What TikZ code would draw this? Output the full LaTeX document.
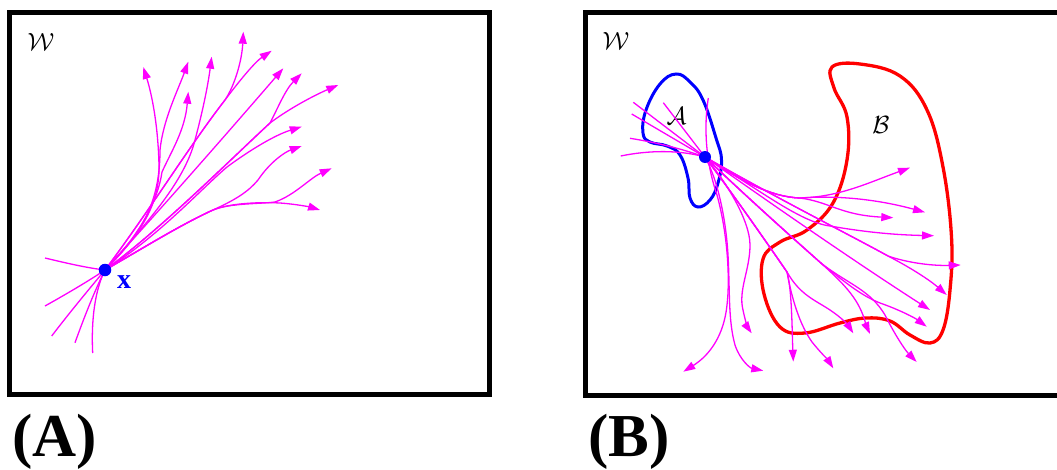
\documentclass[tikz,border=0pt]{standalone}
\usepackage{fontspec}
\setmainfont{Liberation Serif}
\usetikzlibrary{arrows.meta}
\definecolor{mag}{RGB}{255,0,255}
\definecolor{bl}{RGB}{0,0,255}
\definecolor{rd}{RGB}{255,0,0}
\tikzset{
  frame/.style={draw=black,line width=5pt},
  traj/.style={draw=mag,line width=1.3pt},
  arr/.style={traj,-{Triangle[length=12pt,width=8pt]}},
  dotn/.style={circle,fill=bl,inner sep=0pt,minimum size=12.5pt},
  panellab/.style={font=\fontsize{61}{61}\selectfont\bfseries,inner sep=0pt,anchor=base west},
  callab/.style={inner sep=0pt},
}
\begin{document}
\begin{tikzpicture}[x=1pt,y=-1pt]
\useasboundingbox (0,0) rectangle (1057,469);
\clip (0,0) rectangle (1057,469);
% frames
\draw[frame] (9.5,12.5) rectangle (489.5,394.5);
\draw[frame] (585.5,12.5) rectangle (1080,395.5);
% labels
\node[panellab] (labA) at (12,456) {(A)};
\node[panellab] (labB) at (588,456) {(B)};
\node[callab,font=\fontsize{32}{32}\selectfont] (WA) at (41,42) {$\mathcal{W}$};
\node[callab,font=\fontsize{32}{32}\selectfont] (WB) at (616,41) {$\mathcal{W}$};
% ---------- Panel A ----------
\coordinate (D) at (105,270);
\draw[traj] (45,258) .. controls (70,264) and (88,268) .. (D);
\draw[traj] (45,306) .. controls (70,292) and (90,280) .. (D);
\draw[traj] (51.7,336) .. controls (70,312) and (90,288) .. (D);
\draw[traj] (75,342.7) .. controls (85,315) and (95,290) .. (D);
\draw[traj] (92.7,353) .. controls (91,320) and (95,290) .. (D);
% upper branches
\draw[arr] (D) .. controls (140,235) and (160,205) .. (159,165) .. controls (158,125) and (152,95) .. (143.3,67);
\draw[arr] (D) .. controls (140,235) and (160,205) .. (160,150) .. controls (163,120) and (178,90) .. (188.3,61.7);
\draw[arr] (D) .. controls (140,235) and (158,200) .. (162,172) .. controls (172,150) and (185,130) .. (188.3,91.7);
\draw[arr] (D) .. controls (150,220) and (185,180) .. (195,140) .. controls (203,110) and (208,85) .. (211.7,56.7);
\draw[arr] (D) .. controls (150,210) and (190,145) .. (225,100) .. controls (240,80) and (255,62) .. (271.7,50.7);
\draw[arr] (D) .. controls (150,210) and (190,145) .. (225,100) .. controls (235,85) and (242,60) .. (243.3,31.7);
\draw[arr] (D) .. controls (160,210) and (230,130) .. (283.3,68.3);
\draw[arr] (D) .. controls (160,230) and (230,160) .. (270,123) .. controls (290,108) and (315,95) .. (338.3,85);
\draw[arr] (D) .. controls (160,230) and (230,160) .. (270,123) .. controls (277,110) and (285,90) .. (301.7,73.3);
\draw[arr] (D) .. controls (160,235) and (200,190) .. (227,167) .. controls (250,150) and (275,135) .. (301.7,126.7);
\draw[arr] (D) .. controls (140,250) and (180,225) .. (213,210) .. controls (235,200) and (248,192) .. (258,180) .. controls (270,162) and (285,152) .. (301.7,146);
\draw[arr] (D) .. controls (140,250) and (180,225) .. (213,210) .. controls (230,203) and (260,204) .. (275,202) .. controls (295,195) and (310,178) .. (331.7,168.3);
\draw[arr] (D) .. controls (140,250) and (180,225) .. (213,210) .. controls (230,203) and (260,202) .. (280,203) .. controls (295,204) and (310,207) .. (320,210);
\node[dotn] (dA) at (D) {};
\node[inner sep=0pt,anchor=base west,text=bl,font=\fontsize{28}{28}\selectfont\bfseries] (xl) at (117,288) {x};
% ---------- Panel B ----------
\draw[bl,line width=3pt] plot[smooth cycle,tension=0.7] coordinates {(676,74) (690,82) (703,100) (716,138) (721.5,160) (718,183) (710,200) (698,207) (690,198) (688,178) (680,155) (667,146) (650,142) (643,133) (646,110) (660,84)};
\draw[rd,line width=3.3pt] plot[smooth cycle,tension=0.65] coordinates {(832,67) (860,64) (900,76) (927,110) (943,167) (951.5,237) (950,290) (943,330) (930,343) (910,335) (890,321) (866,318) (840,323) (805,333) (780,327) (764,294) (763,259) (780,242) (807,230) (833,203) (847,160) (847,117) (834,88)};
\node[callab,font=\fontsize{32}{32}\selectfont] (Alab) at (676.5,116) {$\mathcal{A}$};
\node[callab,font=\fontsize{34}{34}\selectfont] (Blab) at (881,125) {$\mathcal{B}$};
\coordinate (E) at (705,157);
\draw[traj] (633.3,102.3) -- (E);
\draw[traj] (631.7,114) -- (E);
\draw[traj] (663.3,102.7) -- (E);
\draw[traj] (630,138.3) .. controls (660,143) and (685,150) .. (E);
\draw[traj] (620.7,156) .. controls (650,150) and (680,150) .. (E);
% downward trunk
\draw[arr] (708.3,98) .. controls (704,125) and (705,160) .. (717,195) .. controls (728,235) and (730,280) .. (727,305) .. controls (724,335) and (710,355) .. (683.3,371.7);
\draw[arr] (E) .. controls (718,180) and (726,220) .. (728,255) .. controls (730,290) and (728,320) .. (735,345) .. controls (740,360) and (750,368) .. (763.3,370.7);
\draw[arr] (E) .. controls (725,180) and (750,220) .. (750,245) .. controls (750,270) and (738,290) .. (743,310) .. controls (745,320) and (748,328) .. (751.7,333.3);
% branches via (787,272)
\draw[arr] (E) .. controls (730,190) and (765,240) .. (787,272) .. controls (792,290) and (792,330) .. (793.3,361.7);
\draw[arr] (E) .. controls (730,190) and (765,240) .. (787,272) .. controls (792,300) and (800,325) .. (812,342) .. controls (820,352) and (828,360) .. (833.3,368.3);
\draw[arr] (E) .. controls (730,190) and (765,240) .. (787,272) .. controls (800,295) and (815,300) .. (830,310) .. controls (842,318) and (848,325) .. (853.3,333.3);
% branches via (822,264)
\draw[arr] (E) .. controls (750,200) and (795,240) .. (822,264) .. controls (845,285) and (860,300) .. (866,325) -- (870,334);
\draw[arr] (E) .. controls (750,200) and (795,240) .. (822,264) .. controls (850,285) and (870,290) .. (885,315) .. controls (895,335) and (905,350) .. (916.7,362);
\draw[arr] (E) .. controls (750,200) and (795,240) .. (822,264) .. controls (845,282) and (860,295) .. (880,303) .. controls (900,310) and (915,318) .. (926.7,326.7);
% straight-ish to lower right
\draw[arr] (E) .. controls (780,210) and (860,265) .. (930,310);
\draw[arr] (E) .. controls (780,200) and (850,235) .. (888,256) .. controls (915,270) and (932,282) .. (946.7,295);
\draw[arr] (E) .. controls (780,200) and (850,235) .. (888,256) .. controls (905,262) and (930,266) .. (960.7,265);
% rightward branches
\draw[arr] (E) .. controls (760,190) and (800,222) .. (830,226) .. controls (870,233) and (900,235) .. (934,235.7);
\draw[arr] (E) .. controls (740,180) and (770,197) .. (800,198) .. controls (830,202) and (840,215) .. (893.3,217.7);
\draw[arr] (E) .. controls (740,180) and (770,197) .. (800,198) .. controls (840,195) and (880,200) .. (925,212.3);
\draw[arr] (E) .. controls (740,180) and (770,197) .. (800,198) .. controls (840,197) and (870,182) .. (910,167.7);
\node[dotn,minimum size=12pt] (dB) at (E) {};
\end{tikzpicture}
\end{document}
